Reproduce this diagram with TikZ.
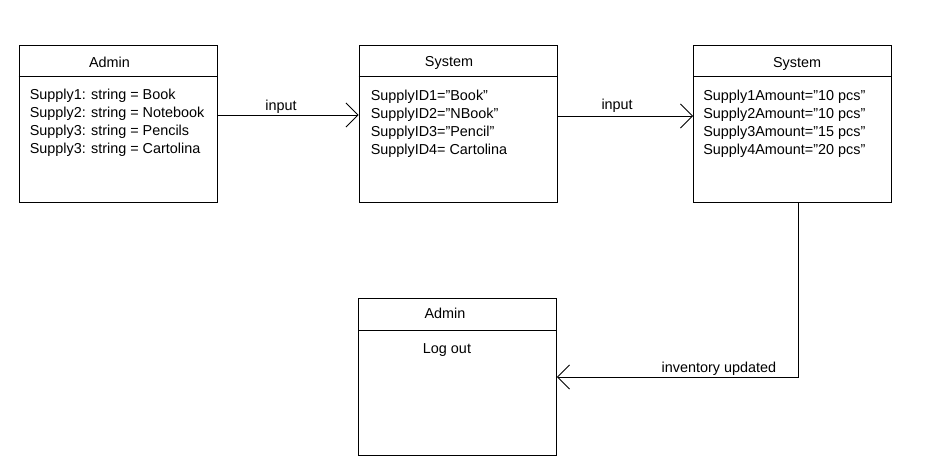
\documentclass[tikz,border=0pt]{standalone}
\usepackage{fontspec}
\setmainfont{Liberation Sans}
\usetikzlibrary{arrows.meta,positioning}
\newcommand{\dq}{\char34\relax}

\begin{document}
\begin{tikzpicture}[x=1pt,y=-1pt,
  every node/.style={font=\fontsize{14.4}{18}\selectfont},
  cls/.style={draw,line width=0.9pt,minimum width=198pt,minimum height=157pt,inner sep=0pt},
  ttl/.style={anchor=center,inner sep=0pt},
  attr/.style={anchor=north west,align=left,inner sep=0pt},
  arr/.style={line width=0.9pt,-{Straight Barb[length=12pt,width=24pt,line width=0.9pt]}}]
\useasboundingbox (0,0) rectangle (927,469);

% Class boxes
\node[cls] (adm) at (118,123.5) {};
\node[cls] (sys) at (458,123.5) {};
\node[cls] (amt) at (792.5,123.5) {};
\node[cls] (log) at (457.5,377) {};

% Dividers
\foreach \b in {adm,sys,amt,log}{
  \draw[line width=0.9pt] ([yshift=-32pt]\b.north west) -- ([yshift=-32pt]\b.north east);
}

% Titles
\node[ttl] at ([shift={(-8.5pt,-18pt)}]adm.north) {Admin};
\node[ttl] at ([shift={(-9pt,-18pt)}]sys.north) {System};
\node[ttl] at ([shift={(4.5pt,-19pt)}]amt.north) {System};
\node[ttl] at ([shift={(-12.5pt,-15.5pt)}]log.north) {Admin};

% Attributes
\node[attr] (admtxt) at ([shift={(11pt,-44pt)}]adm.north west)
  {Supply1: string = Book\\Supply2: string = Notebook\\Supply3: string = Pencils\\Supply3: string = Cartolina};
\node[attr] (systxt) at ([shift={(12pt,-45pt)}]sys.north west)
  {SupplyID1=\dq Book\dq\\SupplyID2=\dq NBook\dq\\SupplyID3=\dq Pencil\dq\\SupplyID4= Cartolina};
\node[attr] (amttxt) at ([shift={(10pt,-45pt)}]amt.north west)
  {Supply1Amount=\dq 10 pcs\dq\\Supply2Amount=\dq 10 pcs\dq\\Supply3Amount=\dq 15 pcs\dq\\Supply4Amount=\dq 20 pcs\dq};
\node[ttl] (logtxt) at ([shift={(-10.5pt,-52pt)}]log.north) {Log out};

% Messages
\draw[arr] ([yshift=8.5pt]adm.east) -- node[above,pos=0.45,inner sep=1pt] {input} ([yshift=8.5pt]sys.west);
\draw[arr] ([yshift=7.5pt]sys.east) -- node[above,pos=0.44,inner sep=3pt] {input} ([yshift=7.5pt]amt.west);
\draw[arr] ([xshift=5.5pt]amt.south) |- node[above,pos=0.664,inner sep=1.5pt] {inventory updated} (log.east);

\end{tikzpicture}
\end{document}
